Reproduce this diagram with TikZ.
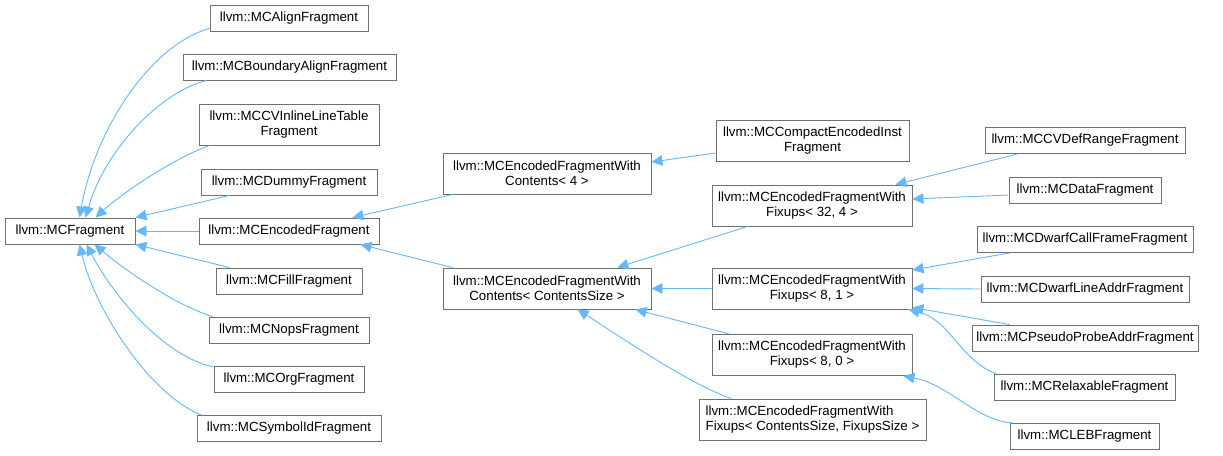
\documentclass[tikz,border=0pt]{standalone}
\usepackage{fontspec}
\setmainfont{Liberation Sans}
\usetikzlibrary{arrows.meta}
\definecolor{edgecol}{HTML}{63B8FF}
\definecolor{bordercol}{HTML}{707070}
\tikzset{
  box/.style={draw=bordercol, fill=white, line width=0.9pt, inner sep=0pt, align=center,
    font=\fontsize{13.3}{15}\selectfont, minimum height=26pt},
  tall/.style={minimum height=41pt},
  edge/.style={draw=edgecol, line width=0.9pt, -{Triangle[length=11pt,width=10.5pt,fill=edgecol]}}
}
\begin{document}
\begin{tikzpicture}[x=1pt,y=-1pt]
\fill[white] (0,0) rectangle (1223,455);
\useasboundingbox (0,0) rectangle (1223,455);
% column 1
\node[box, minimum width=130pt] (frag) at (70,231) {llvm::MCFragment};
% column 2
\node[box, minimum width=158pt] (align) at (289,18) {llvm::MCAlignFragment};
\node[box, minimum width=213pt] (boundary) at (289.5,67) {llvm::MCBoundaryAlignFragment};
\node[box, tall, minimum width=180pt] (cvinline) at (289,124.5) {llvm::MCCVInlineLineTable\\Fragment};
\node[box, minimum width=176pt] (dummy) at (289,182) {llvm::MCDummyFragment};
\node[box, minimum width=180pt] (encoded) at (289,231) {llvm::MCEncodedFragment};
\node[box, minimum width=146pt] (fill) at (289,281) {llvm::MCFillFragment};
\node[box, minimum width=160pt] (nops) at (289,330) {llvm::MCNopsFragment};
\node[box, minimum width=150pt] (org) at (289,379.5) {llvm::MCOrgFragment};
\node[box, minimum width=184pt] (symbolid) at (289,428.5) {llvm::MCSymbolIdFragment};
% column 3
\node[box, tall, minimum width=208pt] (efwc4) at (547,173.5) {llvm::MCEncodedFragmentWith\\Contents\textless{} 4 \textgreater{}};
\node[box, tall, minimum width=208pt] (efwccs) at (547,288.5) {llvm::MCEncodedFragmentWith\\Contents\textless{} ContentsSize \textgreater{}};
% column 4
\node[box, tall, minimum width=193pt] (compact) at (812.5,140.5) {llvm::MCCompactEncodedInst\\Fragment};
\node[box, tall, minimum width=200pt] (efwf324) at (812,205.5) {llvm::MCEncodedFragmentWith\\Fixups\textless{} 32, 4 \textgreater{}};
\node[box, tall, minimum width=200pt] (efwf81) at (812,288.5) {llvm::MCEncodedFragmentWith\\Fixups\textless{} 8, 1 \textgreater{}};
\node[box, tall, minimum width=200pt] (efwf80) at (812,355) {llvm::MCEncodedFragmentWith\\Fixups\textless{} 8, 0 \textgreater{}};
\node[box, tall, minimum width=227pt, align=left] (efwfcsfs) at (812.5,419.5) {llvm::MCEncodedFragmentWith\\Fixups\textless{} ContentsSize, FixupsSize \textgreater{}};
% column 5
\node[box, minimum width=200pt] (cvdefrange) at (1085,140.5) {llvm::MCCVDefRangeFragment};
\node[box, minimum width=152pt] (data) at (1085,190) {llvm::MCDataFragment};
\node[box, minimum width=216pt] (dwarfcf) at (1085,239.5) {llvm::MCDwarfCallFrameFragment};
\node[box, minimum width=208pt] (dwarfla) at (1085,289) {llvm::MCDwarfLineAddrFragment};
\node[box, minimum width=226pt] (pseudo) at (1085,338) {llvm::MCPseudoProbeAddrFragment};
\node[box, minimum width=181pt] (relax) at (1084.5,387.5) {llvm::MCRelaxableFragment};
\node[box, minimum width=149pt] (leb) at (1084.5,436.5) {llvm::MCLEBFragment};
% edges to MCFragment
\draw[edge] ([yshift=3pt]align.south west) .. controls (150,45) and (95,130) .. ([xshift=75pt]frag.north west);
\draw[edge] ([xshift=24pt]boundary.south west) .. controls (160,92) and (105,150) .. ([xshift=81pt]frag.north west);
\draw[edge] ([xshift=11pt]cvinline.south west) .. controls (170,160) and (120,195) .. ([xshift=91pt]frag.north west);
\draw[edge] ([xshift=29pt]dummy.south west) -- (frag.north east);
\draw[edge] (encoded.west) -- (frag.east);
\draw[edge] ([xshift=14pt]fill.north west) -- (frag.south east);
\draw[edge] ([xshift=4pt]nops.north west) .. controls (175,305) and (125,270) .. ([xshift=90pt]frag.south west);
\draw[edge] ([yshift=-1pt]org.north west) .. controls (160,355) and (110,290) .. ([xshift=82pt]frag.south west);
\draw[edge] ([xshift=5pt]symbolid.north west) .. controls (150,395) and (95,310) .. ([xshift=75pt]frag.south west);
% edges to MCEncodedFragment
\draw[edge] ([xshift=10pt]efwc4.south west) -- ([xshift=-27pt]encoded.north east);
\draw[edge] ([xshift=10pt]efwccs.north west) -- ([xshift=-19pt]encoded.south east);
% edges to column 3
\draw[edge] ([yshift=-12.5pt]compact.west) -- ([yshift=11.5pt]efwc4.east);
\draw[edge] ([xshift=36pt]efwf324.south west) -- ([xshift=-34pt]efwccs.north east);
\draw[edge] (efwf81.west) -- (efwccs.east);
\draw[edge] ([xshift=18pt]efwf80.north west) -- ([xshift=-16pt]efwccs.south east);
\draw[edge] ([xshift=33pt]efwfcsfs.north west) .. controls (690,385) and (610,330) .. ([xshift=135pt]efwccs.south west);
% edges to column 4
\draw[edge] ([xshift=33pt]cvdefrange.south west) -- ([xshift=-17pt]efwf324.north east);
\draw[edge] ([yshift=-5pt]data.west) -- ([yshift=6.5pt]efwf324.east);
\draw[edge] ([xshift=33pt]dwarfcf.south west) -- ([yshift=18.5pt]efwf81.east);
\draw[edge] (dwarfla.west) -- (efwf81.east);
\draw[edge] ([xshift=38pt]pseudo.north west) -- ([yshift=2pt]efwf81.south east);
\draw[edge] ([xshift=3pt]relax.north west) .. controls (960,360) and (950,320) .. ([xshift=-4pt]efwf81.south east);
\draw[edge] ([xshift=3pt]leb.north west) .. controls (975,420) and (950,385) .. ([xshift=-9pt]efwf80.south east);
\end{tikzpicture}
\end{document}
